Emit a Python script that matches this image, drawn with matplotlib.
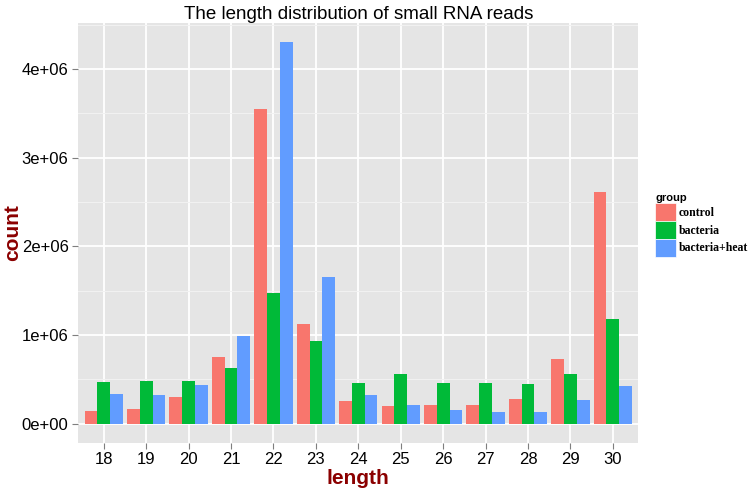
import numpy as np
import matplotlib.pyplot as plt
from matplotlib.patches import Patch
from matplotlib.ticker import FixedLocator, MultipleLocator

plt.rcParams['font.family'] = ['Liberation Sans', 'DejaVu Sans']

lengths = ['18', '19', '20', '21', '22', '23', '24', '25', '26', '27', '28', '29', '30']
groups = ['control', 'bacteria', 'bacteria+heat']
colors = ['#F8766D', '#00BA38', '#619CFF']

control = [0.147e6, 0.17e6, 0.297e6, 0.748e6, 3.55e6, 1.12e6, 0.25e6,
           0.195e6, 0.206e6, 0.206e6, 0.278e6, 0.733e6, 2.612e6]
bacteria = [0.47e6, 0.477e6, 0.485e6, 0.628e6, 1.473e6, 0.932e6, 0.458e6,
            0.564e6, 0.458e6, 0.462e6, 0.451e6, 0.56e6, 1.176e6]
heat = [0.33e6, 0.327e6, 0.436e6, 0.992e6, 4.30e6, 1.654e6, 0.32e6,
        0.21e6, 0.158e6, 0.135e6, 0.135e6, 0.27e6, 0.428e6]
series = [control, bacteria, heat]

fig = plt.figure(figsize=(7.52, 4.92), dpi=100)
ax = fig.add_axes([0.1041, 0.1002, 0.7447, 0.8524])
ax.set_facecolor('#E5E5E5')

x = np.arange(len(lengths))
w = 0.3
for i, (vals, c) in enumerate(zip(series, colors)):
    ax.bar(x + (i - 1) * w, vals, width=w, color=c, zorder=3, linewidth=0)

ymax = max(max(s) for s in series)
ax.set_ylim(-0.05 * ymax, 1.05 * ymax)
ax.set_xlim(-0.6, len(lengths) - 1 + 0.6)

ax.set_xticks(x)
ax.set_xticklabels(lengths)
ax.yaxis.set_major_locator(FixedLocator([0, 1e6, 2e6, 3e6, 4e6]))
ax.set_yticklabels(['0e+00', '1e+06', '2e+06', '3e+06', '4e+06'])
ax.yaxis.set_minor_locator(MultipleLocator(0.5e6))

ax.grid(which='major', color='white', linewidth=1.3, zorder=0)
ax.grid(which='minor', axis='y', color='#F2F2F2', linewidth=0.7, zorder=0)
ax.set_axisbelow(True)
for s in ax.spines.values():
    s.set_visible(False)
ax.tick_params(axis='both', which='major', length=4, width=0.8, color='#7F7F7F',
               labelsize=12, labelcolor='black', pad=3)
ax.tick_params(axis='y', which='minor', length=0)

ax.set_xlabel('length', fontsize=15, fontweight='bold', color='#8B0000', labelpad=1)
ax.set_ylabel('count', fontsize=15, fontweight='bold', color='#8B0000')
ax.yaxis.set_label_coords(-0.101, 0.5)
ax.set_title('The length distribution of small RNA reads', fontsize=13.5, pad=3)

handles = [Patch(facecolor=c, edgecolor='white', linewidth=0.5) for c in colors]
leg = fig.legend(handles, groups, loc='upper left',
                 bbox_to_anchor=(655 / 752, 1 - 193 / 492),
                 frameon=False, borderpad=0, borderaxespad=0,
                 handlelength=1.8, handleheight=1.95, labelspacing=0,
                 handletextpad=0.2, alignment='left',
                 prop={'family': 'Liberation Serif', 'weight': 'bold', 'size': 8.5},
                 title='group',
                 title_fontproperties={'family': 'Liberation Sans', 'weight': 'bold', 'size': 8})

fig.savefig('out.png', dpi=100)
